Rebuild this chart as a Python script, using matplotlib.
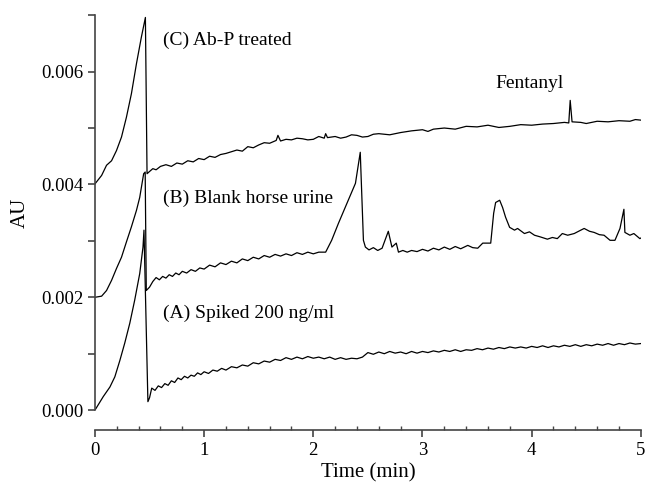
import matplotlib
matplotlib.use("Agg")
from matplotlib import pyplot as plt
from matplotlib.ticker import MultipleLocator

# (A) Spiked 200 ng/ml
time_a = [0.00, 0.076, 0.137, 0.182, 0.228, 0.273, 0.319, 0.364, 0.410, 0.44, 0.449, 0.485,
          0.50, 0.52, 0.55, 0.58, 0.61, 0.64, 0.67, 0.70, 0.73, 0.76, 0.79, 0.82,
          0.85, 0.88, 0.91, 0.94, 0.97, 1.00, 1.04, 1.08, 1.12, 1.16, 1.20, 1.25,
          1.30, 1.35, 1.40, 1.45, 1.50, 1.55, 1.60, 1.65, 1.70, 1.75, 1.80, 1.85,
          1.90, 1.95, 2.00, 2.05, 2.10, 2.15, 2.20, 2.25, 2.30, 2.35, 2.40, 2.45,
          2.50, 2.55, 2.60, 2.65, 2.70, 2.75, 2.80, 2.85, 2.90, 2.95, 3.00, 3.05,
          3.10, 3.15, 3.20, 3.25, 3.30, 3.35, 3.40, 3.45, 3.50, 3.55, 3.60, 3.65,
          3.70, 3.75, 3.80, 3.85, 3.90, 3.95, 4.00, 4.05, 4.10, 4.15, 4.20, 4.25,
          4.30, 4.35, 4.40, 4.45, 4.50, 4.55, 4.60, 4.65, 4.70, 4.75, 4.80, 4.85,
          4.90, 4.95, 5.00]
au_a = [0.00000, 0.00024, 0.00041, 0.00059, 0.00088, 0.00119, 0.00154, 0.00195, 0.00242, 0.00289, 0.00319, 0.00015,
        0.00022, 0.00039, 0.00035, 0.00043, 0.00040, 0.00047, 0.00044, 0.00052, 0.00049, 0.00057, 0.00054, 0.00060,
        0.00057, 0.00062, 0.00060, 0.00066, 0.00063, 0.00068, 0.00065, 0.00071, 0.00069, 0.00074, 0.00071, 0.00077,
        0.00075, 0.00080, 0.00078, 0.00084, 0.00082, 0.00087, 0.00085, 0.00090, 0.00088, 0.00093, 0.00090, 0.00094,
        0.00091, 0.00095, 0.00092, 0.00094, 0.00091, 0.00094, 0.00090, 0.00093, 0.00090, 0.00092, 0.00091, 0.00094,
        0.00102, 0.00099, 0.00103, 0.00100, 0.00104, 0.00101, 0.00103, 0.00100, 0.00104, 0.00101, 0.00104, 0.00102,
        0.00105, 0.00103, 0.00106, 0.00104, 0.00107, 0.00104, 0.00107, 0.00106, 0.00109, 0.00107, 0.00110, 0.00108,
        0.00111, 0.00109, 0.00112, 0.00110, 0.00112, 0.00110, 0.00113, 0.00111, 0.00114, 0.00111, 0.00114, 0.00112,
        0.00115, 0.00113, 0.00116, 0.00113, 0.00116, 0.00114, 0.00117, 0.00115, 0.00118, 0.00115, 0.00118, 0.00116,
        0.00119, 0.00117, 0.00118]

# (B) Blank horse urine
time_b = [0.00, 0.061, 0.106, 0.152, 0.197, 0.243, 0.288, 0.334, 0.380, 0.41, 0.446, 0.46,
          0.47, 0.50, 0.53, 0.56, 0.59, 0.62, 0.65, 0.68, 0.71, 0.74, 0.77, 0.80,
          0.84, 0.88, 0.92, 0.96, 1.00, 1.05, 1.10, 1.15, 1.20, 1.25, 1.30, 1.35,
          1.40, 1.45, 1.50, 1.55, 1.60, 1.65, 1.70, 1.75, 1.80, 1.85, 1.90, 1.95,
          2.00, 2.05, 2.113, 2.168, 2.23, 2.32, 2.386, 2.43, 2.459, 2.477, 2.51, 2.55,
          2.59, 2.63, 2.687, 2.72, 2.76, 2.78, 2.82, 2.86, 2.90, 2.95, 3.00, 3.05,
          3.10, 3.15, 3.20, 3.25, 3.30, 3.35, 3.415, 3.46, 3.506, 3.552, 3.625, 3.652,
          3.670, 3.707, 3.734, 3.761, 3.798, 3.843, 3.871, 3.934, 3.98, 4.026, 4.08, 4.144,
          4.19, 4.235, 4.281, 4.33, 4.390, 4.44, 4.481, 4.53, 4.572, 4.62, 4.663, 4.718,
          4.763, 4.809, 4.845, 4.854, 4.90, 4.936, 4.991, 5.00]
au_b = [0.00200, 0.00202, 0.00212, 0.00230, 0.00251, 0.00271, 0.00298, 0.00325, 0.00354, 0.00377, 0.00419, 0.00422,
        0.00212, 0.00218, 0.00228, 0.00235, 0.00231, 0.00237, 0.00234, 0.00240, 0.00237, 0.00243, 0.00240, 0.00246,
        0.00243, 0.00249, 0.00246, 0.00252, 0.00250, 0.00257, 0.00254, 0.00261, 0.00258, 0.00264, 0.00261, 0.00268,
        0.00265, 0.00271, 0.00268, 0.00274, 0.00271, 0.00276, 0.00273, 0.00277, 0.00274, 0.00279, 0.00276, 0.00280,
        0.00277, 0.00280, 0.00280, 0.00301, 0.00331, 0.00372, 0.00402, 0.00457, 0.00301, 0.00289, 0.00284, 0.00288,
        0.00283, 0.00287, 0.00317, 0.00289, 0.00296, 0.00280, 0.00283, 0.00280, 0.00283, 0.00281, 0.00285, 0.00282,
        0.00287, 0.00284, 0.00289, 0.00285, 0.00290, 0.00286, 0.00292, 0.00288, 0.00287, 0.00296, 0.00296, 0.00349,
        0.00368, 0.00372, 0.00359, 0.00342, 0.00324, 0.00319, 0.00322, 0.00313, 0.00316, 0.00310, 0.00307, 0.00303,
        0.00306, 0.00304, 0.00313, 0.00310, 0.00313, 0.00318, 0.00322, 0.00317, 0.00315, 0.00311, 0.00310, 0.00301,
        0.00301, 0.00322, 0.00356, 0.00315, 0.00310, 0.00313, 0.00304, 0.00305]

# (C) Ab-P treated
time_c = [0.00, 0.061, 0.106, 0.152, 0.197, 0.243, 0.288, 0.334, 0.380, 0.425, 0.462, 0.477,
          0.50, 0.53, 0.56, 0.60, 0.65, 0.70, 0.75, 0.80, 0.85, 0.90, 0.95, 1.00,
          1.05, 1.10, 1.15, 1.20, 1.25, 1.30, 1.35, 1.40, 1.45, 1.50, 1.55, 1.60,
          1.66, 1.676, 1.70, 1.75, 1.80, 1.85, 1.90, 1.95, 2.00, 2.05, 2.10, 2.113,
          2.13, 2.20, 2.25, 2.30, 2.35, 2.40, 2.45, 2.50, 2.55, 2.60, 2.70, 2.80,
          2.90, 3.00, 3.05, 3.10, 3.20, 3.30, 3.40, 3.50, 3.60, 3.70, 3.80, 3.90,
          4.00, 4.10, 4.20, 4.30, 4.34, 4.353, 4.37, 4.45, 4.50, 4.60, 4.70, 4.80,
          4.90, 4.95, 5.00]
au_c = [0.00401, 0.00416, 0.00434, 0.00442, 0.00460, 0.00484, 0.00519, 0.00561, 0.00614, 0.00661, 0.00696, 0.00419,
        0.00423, 0.00428, 0.00426, 0.00432, 0.00435, 0.00432, 0.00438, 0.00436, 0.00442, 0.00440, 0.00446, 0.00444,
        0.00450, 0.00448, 0.00453, 0.00455, 0.00458, 0.00461, 0.00459, 0.00467, 0.00465, 0.00470, 0.00474, 0.00473,
        0.00478, 0.00487, 0.00477, 0.00480, 0.00479, 0.00482, 0.00481, 0.00479, 0.00480, 0.00485, 0.00482, 0.00490,
        0.00483, 0.00485, 0.00482, 0.00484, 0.00488, 0.00487, 0.00484, 0.00485, 0.00489, 0.00490, 0.00488, 0.00492,
        0.00495, 0.00497, 0.00494, 0.00498, 0.00500, 0.00498, 0.00503, 0.00502, 0.00505, 0.00501, 0.00503, 0.00506,
        0.00505, 0.00507, 0.00508, 0.00510, 0.00509, 0.00549, 0.00511, 0.00510, 0.00508, 0.00512, 0.00511, 0.00513,
        0.00512, 0.00515, 0.00514]

labels = ['(A) Spiked 200 ng/ml', '(B) Blank horse urine', '(C) Ab-P treated']
label_pos = [(0.62, 0.00172), (0.62, 0.00375), (0.62, 0.00655)]

plt.rcParams['font.family'] = ['Liberation Serif', 'DejaVu Serif']

fig = plt.figure(figsize=(6.46, 4.90), dpi=100)
ax = fig.add_axes([0.147, 0.163, 0.845, 0.806])

for t, y in [(time_a, au_a), (time_b, au_b), (time_c, au_c)]:
    ax.plot(t, y, color='black', lw=0.9)

for txt, (x, y) in zip(labels, label_pos):
    ax.text(x, y, txt, fontsize=14, va='center', ha='left')
ax.text(3.67, 0.00579, 'Fentanyl', fontsize=14, va='center', ha='left')

ax.set_xlim(0, 5)
ax.set_ylim(0, 0.007)
ax.spines['top'].set_visible(False)
ax.spines['right'].set_visible(False)
ax.spines['bottom'].set_position(('outward', 14.4))
for s in ['left', 'bottom']:
    ax.spines[s].set_color('#444444')
    ax.spines[s].set_linewidth(1.2)

ax.xaxis.set_major_locator(MultipleLocator(1))
ax.xaxis.set_minor_locator(MultipleLocator(0.2))
ax.yaxis.set_major_locator(MultipleLocator(0.002))
ax.yaxis.set_minor_locator(MultipleLocator(0.001))
ax.yaxis.set_major_formatter(plt.FormatStrFormatter('%.3f'))
ax.tick_params(axis='both', which='major', labelsize=13.5, length=5, width=1.2, color='#444444')
ax.tick_params(axis='x', which='minor', direction='in', length=3, width=1, color='#444444')
ax.tick_params(axis='y', which='minor', direction='out', length=5, width=1.2, color='#444444')

ax.set_xlabel('Time (min)', fontsize=15, labelpad=3)
ax.set_ylabel('AU', fontsize=15, labelpad=8)

fig.savefig('out.png', dpi=100)
